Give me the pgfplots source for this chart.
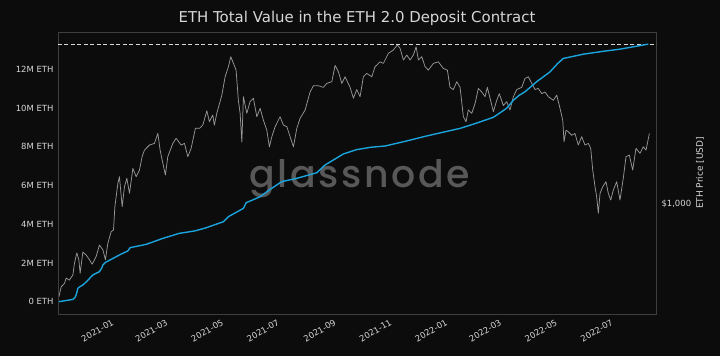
\documentclass[border=0pt]{standalone}
\usepackage{pgfplots}
\pgfplotsset{compat=1.18}
\usepackage{pgfplotstable}
\usepackage{fontspec}
\setmainfont{DejaVu Sans}
\newfontfamily\wmfont{Poppins}[UprightFont=* Medium, LetterSpace=7]
\definecolor{bg}{RGB}{12,12,12}
\definecolor{frame}{RGB}{62,62,62}
\definecolor{txt}{RGB}{215,215,215}
\definecolor{ethblue}{RGB}{27,163,220}
\definecolor{pricegrey}{RGB}{150,150,150}
\definecolor{wm}{RGB}{88,88,88}

% days since 2021-01-01, ETH in deposit contract (millions)
\pgfplotstableread{
d v
-55.5 0.00
-40.0 0.12
-37.5 0.25
-36.0 0.45
-34.8 0.69
-33.0 0.76
-29.3 0.86
-24.0 1.10
-18.4 1.38
-11.2 1.55
-8.5 1.75
-7.4 1.90
-4.6 2.03
3.0 2.22
12.6 2.46
19.9 2.62
22.4 2.79
39.9 2.96
58.2 3.27
76.3 3.53
92.7 3.65
104.4 3.80
116.5 4.00
124.4 4.13
129.9 4.39
146.3 4.82
149.3 5.11
164.6 5.42
175.5 5.80
188.3 6.20
204.7 6.37
226.6 6.66
235.6 7.06
255.7 7.63
270.0 7.85
284.9 7.97
301.3 8.04
325.0 8.30
346.9 8.56
383.3 8.95
400.0 9.20
419.7 9.52
434.3 9.99
441.5 10.40
447.8 10.65
454.3 10.84
467.1 11.36
481.7 11.87
490.0 12.30
496.2 12.56
518.1 12.78
540.0 12.93
558.2 13.04
575.0 13.18
589.2 13.30
}\ethtable

% days since 2021-01-01, ETH price (USD)
\pgfplotstableread{
d p
-55.5 409
-53.0 450
-49.4 465
-47.6 490
-44.0 480
-40.2 505
-38.5 565
-35.9 625
-33.7 585
-32.3 513
-29.3 630
-25.7 612
-22.1 585
-19.1 560
-14.8 603
-11.2 674
-7.4 644
-4.6 585
-2.0 685
1.6 767
4.2 780
5.7 977
9.0 1225
10.7 1306
13.7 977
16.2 1185
18.8 1286
21.7 1112
25.4 1416
29.0 1306
32.6 1393
35.5 1586
38.1 1690
43.5 1774
49.0 1803
52.7 1987
55.2 1690
58.2 1487
61.0 1328
63.6 1586
69.1 1803
72.7 1893
78.2 1774
81.8 1803
85.5 1586
89.1 1718
93.8 2085
98.2 2085
101.9 2151
106.3 2472
109.1 2222
112.8 2372
114.5 2150
117.2 2412
122.7 2875
126.3 3434
129.9 3787
132.5 4170
135.4 3910
138.3 3662
140.8 2730
142.7 2412
144.6 1826
146.3 2833
150.0 2412
153.6 2700
157.2 2790
161.0 2334
164.6 2531
168.2 2256
171.9 2049
174.7 1744
177.4 1924
181.0 2119
186.4 2334
190.1 2151
193.8 2119
197.4 1924
201.0 1744
204.7 2085
208.3 2297
213.8 2490
219.2 2963
222.9 3150
228.3 3150
233.8 3100
237.5 3222
243.0 3275
246.6 3835
250.2 3607
253.9 3222
257.5 3434
263.0 3100
266.6 2790
270.3 3035
273.9 2833
277.5 3434
281.2 3550
286.7 3434
290.3 3787
295.8 3970
299.4 3910
304.9 4310
310.3 4450
314.7 4670
317.7 4520
321.3 4040
325.0 4240
328.6 4040
332.2 4240
335.2 4590
337.7 4040
341.4 4170
345.0 3787
348.6 3662
354.1 3910
359.5 3970
365.0 3724
369.4 3662
372.3 3100
375.9 3035
379.7 3275
383.3 3100
386.9 2334
389.8 2222
392.3 2490
396.1 2412
399.7 2654
403.3 3068
407.0 2963
410.6 2833
413.1 3100
417.9 2616
419.7 2450
423.4 2737
426.2 2917
430.6 2600
434.3 2700
437.9 2490
441.6 2833
445.3 3035
450.7 3100
454.3 3380
458.0 3434
461.7 3222
465.3 3035
468.9 3068
472.6 2917
476.2 2963
479.8 2833
485.3 2737
489.0 2875
492.6 2531
495.6 2256
497.0 1831
499.2 2049
501.7 2016
505.4 1951
509.0 1984
512.6 1774
516.3 1924
519.9 1774
523.6 1803
526.2 1718
528.4 1393
530.9 1185
532.7 1076
534.5 917
536.4 1112
539.3 1185
542.9 1244
545.4 1112
548.1 1042
550.9 1148
554.6 1244
558.2 1042
561.8 1286
564.8 1586
568.4 1610
572.1 1393
575.7 1718
580.1 1638
583.7 1744
586.7 1690
590.3 1984
}\pricetable

\pgfplotsset{
  base/.style={
    scale only axis, width=598bp, height=282bp,
    at={(0,0)}, anchor=south west,
    xmin=-56.5, xmax=597.6,
    axis line style={frame, line width=0.8bp},
    major tick length=0pt,
    tick label style={text=txt, font=\fontsize{8.5}{10}\selectfont},
  }
}

\begin{document}
\begin{tikzpicture}
\fill[bg, use as bounding box] (-58bp,-42bp) rectangle (662bp,314bp);
\node[text=wm, font=\wmfont\fontsize{38}{38}\selectfont, anchor=base, inner sep=0pt] at (302bp,126bp) {glassnode};
\node[text=txt, font=\fontsize{15}{17}\selectfont] at (299bp,296bp) {ETH Total Value in the ETH 2.0 Deposit Contract};
\node[text=txt, font=\fontsize{9}{10}\selectfont, rotate=90] at (642bp,141bp) {ETH Price [USD]};

\begin{axis}[base,
  ymode=log, ymin=346, ymax=5297,
  axis x line=none, axis y line*=right,
  ytick={1000}, yticklabels={\$1{,}000},
  yticklabel style={xshift=2bp},
]
\addplot[pricegrey, line width=0.75bp, line join=round] table[x=d, y=p] {\pricetable};
\end{axis}

\begin{axis}[base,
  ymin=-0.635, ymax=13.926,
  xtick pos=lower, ytick pos=left,
  ytick={0,2,4,6,8,10,12},
  yticklabels={0 ETH,2M ETH,4M ETH,6M ETH,8M ETH,10M ETH,12M ETH},
  yticklabel style={xshift=-1bp},
  xtick={0,59,120,181,243,304,365,424,485,546},
  xticklabels={2021-01,2021-03,2021-05,2021-07,2021-09,2021-11,2022-01,2022-03,2022-05,2022-07},
  xticklabel style={rotate=30, anchor=north east, inner sep=1bp, yshift=-4bp},
]
\addplot[txt, dash pattern=on 4bp off 2.5bp, line width=1bp] coordinates {(-56.5,13.3) (597.6,13.3)};
\addplot[ethblue, line width=1.4bp, line join=round] table[x=d, y=v] {\ethtable};
\end{axis}
\end{tikzpicture}
\end{document}
